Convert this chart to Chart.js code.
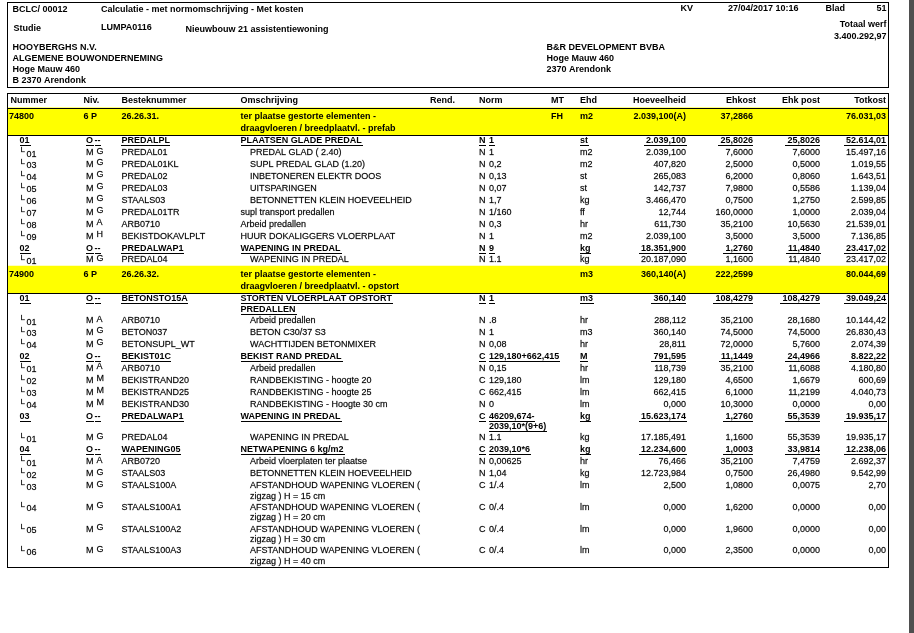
<!DOCTYPE html>
<html lang="nl">
<head>
<meta charset="utf-8">
<title>Calculatie - met normomschrijving - Met kosten</title>
<script src="https://cdn.jsdelivr.net/npm/chart.js@4.4.1/dist/chart.umd.min.js"></script>
<style>
  html, body { margin: 0; padding: 0; background: #fff; }
  canvas { display: block; }
</style>
</head>
<body>
<canvas id="calculatie" width="914" height="633"></canvas>
<script>
// kop van het blad
const documentKop = ['BCLC/ 00012', 'Calculatie - met normomschrijving - Met kosten', 'KV', '27/04/2017 10:16', 'Blad', '51'];
const studie = ['Studie', 'LUMPA0116', 'Nieuwbouw 21 assistentiewoning'];
const totaalWerf = ['Totaal werf', '3.400.292,97'];
const aannemer = ['HOOYBERGHS N.V.', 'ALGEMENE BOUWONDERNEMING', 'Hoge Mauw 460', 'B 2370 Arendonk'];
const bouwheer = ['B&R DEVELOPMENT BVBA', 'Hoge Mauw 460', '2370 Arendonk'];

const kolomTitels = ['Nummer', 'Niv.', 'Besteknummer', 'Omschrijving', 'Rend.', 'Norm', 'MT', 'Ehd', 'Hoeveelheid', 'Ehkost', 'Ehk post', 'Totkost'];

// een element per regel van de calculatie
const nummers = ['74800', '01', 'L01', 'L03', 'L04', 'L05', 'L06', 'L07', 'L08', 'L09', '02', 'L01',
    '74900', '01', 'L01', 'L03', 'L04', '02', 'L01', 'L02', 'L03', 'L04', '03', 'L01', '04', 'L01', 'L02', 'L03', 'L04', 'L05', 'L06'];
const niveaus = ['6 P', 'O --', 'M G', 'M G', 'M G', 'M G', 'M G', 'M G', 'M A', 'M H', 'O --', 'M G',
    '6 P', 'O --', 'M A', 'M G', 'M G', 'O --', 'M A', 'M M', 'M M', 'M M', 'O --', 'M G', 'O --', 'M A', 'M G', 'M G', 'M G', 'M G', 'M G'];
const besteknummers = ['26.26.31.', 'PREDALPL', 'PREDAL01', 'PREDAL01KL', 'PREDAL02', 'PREDAL03', 'STAALS03', 'PREDAL01TR', 'ARB0710', 'BEKISTDOKAVLPLT', 'PREDALWAP1', 'PREDAL04',
    '26.26.32.', 'BETONSTO15A', 'ARB0710', 'BETON037', 'BETONSUPL_WT', 'BEKIST01C', 'ARB0710', 'BEKISTRAND20', 'BEKISTRAND25', 'BEKISTRAND30', 'PREDALWAP1', 'PREDAL04',
    'WAPENING05', 'ARB0720', 'STAALS03', 'STAALS100A', 'STAALS100A1', 'STAALS100A2', 'STAALS100A3'];
const omschrijvingen = [
    'ter plaatse gestorte elementen -\ndraagvloeren / breedplaatvl. - prefab',
    'PLAATSEN GLADE PREDAL', 'PREDAL GLAD ( 2.40)', 'SUPL PREDAL GLAD (1.20)', 'INBETONEREN ELEKTR DOOS', 'UITSPARINGEN',
    'BETONNETTEN KLEIN HOEVEELHEID', 'supl transport predallen', 'Arbeid predallen', 'HUUR DOKALIGGERS VLOERPLAAT',
    'WAPENING IN PREDAL', 'WAPENING IN PREDAL',
    'ter plaatse gestorte elementen -\ndraagvloeren / breedplaatvl. - opstort',
    'STORTEN VLOERPLAAT OPSTORT\nPREDALLEN', 'Arbeid predallen', 'BETON C30/37 S3', 'WACHTTIJDEN BETONMIXER',
    'BEKIST RAND PREDAL', 'Arbeid predallen', 'RANDBEKISTING - hoogte 20', 'RANDBEKISTING - hoogte 25', 'RANDBEKISTING - Hoogte 30 cm',
    'WAPENING IN PREDAL', 'WAPENING IN PREDAL', 'NETWAPENING 6 kg/m2', 'Arbeid vloerplaten ter plaatse', 'BETONNETTEN KLEIN HOEVEELHEID',
    'AFSTANDHOUD WAPENING VLOEREN (\nzigzag ) H = 15 cm', 'AFSTANDHOUD WAPENING VLOEREN (\nzigzag ) H = 20 cm',
    'AFSTANDHOUD WAPENING VLOEREN (\nzigzag ) H = 30 cm', 'AFSTANDHOUD WAPENING VLOEREN (\nzigzag ) H = 40 cm'];
const normen = ['', 'N 1', 'N 1', 'N 0,2', 'N 0,13', 'N 0,07', 'N 1,7', 'N 1/160', 'N 0,3', 'N 1', 'N 9', 'N 1.1',
    '', 'N 1', 'N .8', 'N 1', 'N 0,08', 'C 129,180+662,415', 'N 0,15', 'C 129,180', 'C 662,415', 'N 0',
    'C 46209,674-\n2039,10*(9+6)', 'N 1.1', 'C 2039,10*6', 'N 0,00625', 'N 1,04', 'C 1/.4', 'C 0/.4', 'C 0/.4', 'C 0/.4'];
const mts = ['FH', '', '', '', '', '', '', '', '', '', '', '', '', '', '', '', '', '', '', '', '', '', '', '', '', '', '', '', '', '', ''];
const eenheden = ['m2', 'st', 'm2', 'm2', 'st', 'st', 'kg', 'ff', 'hr', 'm2', 'kg', 'kg',
    'm3', 'm3', 'hr', 'm3', 'hr', 'M', 'hr', 'lm', 'lm', 'lm', 'kg', 'kg', 'kg', 'hr', 'kg', 'lm', 'lm', 'lm', 'lm'];
const hoeveelheden = ['2.039,100(A)', '2.039,100', '2.039,100', '407,820', '265,083', '142,737', '3.466,470', '12,744', '611,730', '2.039,100', '18.351,900', '20.187,090',
    '360,140(A)', '360,140', '288,112', '360,140', '28,811', '791,595', '118,739', '129,180', '662,415', '0,000', '15.623,174', '17.185,491',
    '12.234,600', '76,466', '12.723,984', '2,500', '0,000', '0,000', '0,000'];
const ehkosten = ['37,2866', '25,8026', '7,6000', '2,5000', '6,2000', '7,9800', '0,7500', '160,0000', '35,2100', '3,5000', '1,2760', '1,1600',
    '222,2599', '108,4279', '35,2100', '74,5000', '72,0000', '11,1449', '35,2100', '4,6500', '6,1000', '10,3000', '1,2760', '1,1600',
    '1,0003', '35,2100', '0,7500', '1,0800', '1,6200', '1,9600', '2,3500'];
const ehkPosten = ['', '25,8026', '7,6000', '0,5000', '0,8060', '0,5586', '1,2750', '1,0000', '10,5630', '3,5000', '11,4840', '11,4840',
    '', '108,4279', '28,1680', '74,5000', '5,7600', '24,4966', '11,6088', '1,6679', '11,2199', '0,0000', '55,3539', '55,3539',
    '33,9814', '7,4759', '26,4980', '0,0075', '0,0000', '0,0000', '0,0000'];
const totkosten = ['76.031,03', '52.614,01', '15.497,16', '1.019,55', '1.643,51', '1.139,04', '2.599,85', '2.039,04', '21.539,01', '7.136,85', '23.417,02', '23.417,02',
    '80.044,69', '39.049,24', '10.144,42', '26.830,43', '2.074,39', '8.822,22', '4.180,80', '600,69', '4.040,73', '0,00', '19.935,17', '19.935,17',
    '12.238,06', '2.692,37', '9.542,99', '2,70', '0,00', '0,00', '0,00'];

// regels waarvan de omschrijving niet inspringt
const zonderInspringing = [7, 8, 9];

// opmaak: x in pixels van het blad, y in tekstregels
const X = { links: 7, rechts: 888, nummer: 9, post: 19.5, lijn: 20.5, sub: 26.5, niv: 83.5, niv1: 86, niv2: 96.5, streep: 94.5,
    bestek: 121.5, omschr: 240.5, inspring: 250, rend: 455, norm: 479, normWaarde: 489, mt: 551, ehd: 580,
    hoev: 686, ehkost: 753, ehkPost: 820, totkost: 886 };
const KOP_HOOGTE = 1.22;
const GROEP_HOOGTE = 2.25;
const EXTRA_REGEL = 0.82;
const PX_PER_REGEL = 633 / 53;
const FONT = '"Liberation Sans", Arial, sans-serif';

let regel = KOP_HOOGTE;
const rijen = nummers.map((nr, i) => {
    const soort = /^\d/.test(niveaus[i]) ? 'groep' : (niveaus[i].startsWith('O') ? 'post' : 'deel');
    const n = Math.max(omschrijvingen[i].split('\n').length, normen[i].split('\n').length);
    const hoogte = soort === 'groep' ? GROEP_HOOGTE : 1 + EXTRA_REGEL * (n - 1);
    const rij = { i, soort, top: regel, hoogte };
    regel += hoogte;
    return rij;
});
const tabelEinde = regel;

function schrijf(ctx, s, x, y, opt = {}) {
    if (!s) return;
    ctx.font = (opt.bold ? 'bold ' : '') + (opt.size || 9) + 'px ' + FONT;
    ctx.textAlign = opt.align || 'left';
    ctx.textBaseline = 'middle';
    ctx.fillStyle = '#000';
    ctx.fillText(s, x, y);
    if (!opt.bold) {
        // gewone tekst iets voller, zoals op het scherm van het origineel
        ctx.strokeStyle = 'rgba(0,0,0,0.55)';
        ctx.lineWidth = 0.3;
        ctx.strokeText(s, x, y);
    }
    if (opt.onder) {
        const w = ctx.measureText(s).width;
        const x0 = opt.align === 'right' ? x - w - 2 : x;
        ctx.fillRect(Math.round(x0), Math.round(y + 4.5), Math.ceil(w + (opt.align === 'right' ? 2 : 0)), 1);
    }
}

const tabelPlugin = {
    id: 'tabel',
    beforeDraw(chart) {
        const { ctx } = chart;
        ctx.save();
        ctx.fillStyle = '#fff';
        ctx.fillRect(0, 0, chart.width, chart.height);
        ctx.restore();
    },
    afterDatasetsDraw(chart) {
        const { ctx, scales: { x, y } } = chart;
        const px = v => x.getPixelForValue(v);
        const py = v => y.getPixelForValue(v);
        ctx.save();

        // kopblok
        const b = { bold: true };
        ctx.fillStyle = '#000';
        const kTop = Math.round(py(-7.62)), kBodem = Math.round(py(-0.5));
        ctx.fillRect(px(X.links), kTop, px(X.rechts) - px(X.links) + 1, 1);
        ctx.fillRect(px(X.links), kBodem, px(X.rechts) - px(X.links) + 1, 1);
        ctx.fillRect(px(X.links), kTop, 1, kBodem - kTop);
        ctx.fillRect(px(X.rechts), kTop, 1, kBodem - kTop);
        schrijf(ctx, documentKop[0], px(12.5), py(-7.03), b);
        schrijf(ctx, documentKop[1], px(101), py(-7.03), b);
        schrijf(ctx, documentKop[2], px(680.5), py(-7.08), b);
        schrijf(ctx, documentKop[3], px(728), py(-7.08), b);
        schrijf(ctx, documentKop[4], px(825.5), py(-7.08), b);
        schrijf(ctx, documentKop[5], px(886.5), py(-7.08), { bold: true, align: 'right' });
        schrijf(ctx, studie[0], px(13.5), py(-5.43), b);
        schrijf(ctx, studie[1], px(101), py(-5.5), b);
        schrijf(ctx, studie[2], px(185.5), py(-5.3), b);
        schrijf(ctx, totaalWerf[0], px(886.5), py(-5.77), { bold: true, align: 'right' });
        schrijf(ctx, totaalWerf[1], px(886.5), py(-4.77), { bold: true, align: 'right' });
        aannemer.forEach((t, k) => schrijf(ctx, t, px(12.5), py(-3.82 + 0.91 * k), b));
        bouwheer.forEach((t, k) => schrijf(ctx, t, px(546.5), py(-3.82 + 0.91 * k), b));

        // kolomkoppen
        const kh = py(KOP_HOOGTE / 2);
        const kopX = [X.nummer + 1.5, X.niv, X.bestek, X.omschr, X.rend, X.norm, X.mt, X.ehd, X.hoev, X.ehkost + 3, X.ehkPost, X.totkost];
        const rechts = ['Rend.', 'Hoeveelheid', 'Ehkost', 'Ehk post', 'Totkost'];
        kolomTitels.forEach((t, k) => schrijf(ctx, t, px(kopX[k]), kh, { bold: true, align: rechts.includes(t) ? 'right' : 'left' }));

        // regels
        rijen.forEach(r => {
            const i = r.i;
            const groep = r.soort === 'groep', post = r.soort === 'post';
            const opt = { bold: groep || post, onder: post };
            const y1 = groep ? py(r.top + 0.7) : py(r.top + 0.5);
            const regelY = k => groep ? py(r.top + 0.7 + 1.0 * k) : py(r.top + 0.5 + (EXTRA_REGEL + 0.06) * k);

            if (groep) schrijf(ctx, nummers[i], px(X.nummer), y1, opt);
            else if (post) schrijf(ctx, nummers[i], px(X.post), y1, opt);
            else {
                schrijf(ctx, 'L', px(X.lijn), y1 - 2.5, { size: 8 });
                schrijf(ctx, nummers[i].slice(1), px(X.sub), y1 + 1.5);
            }

            if (groep) schrijf(ctx, niveaus[i], px(X.niv), y1, opt);
            else {
                const [a, c] = niveaus[i].split(' ');
                schrijf(ctx, a, px(X.niv1), y1, opt);
                schrijf(ctx, c, px(post ? X.streep : X.niv2), post ? y1 : y1 - 1.5, opt);
            }

            schrijf(ctx, besteknummers[i], px(X.bestek), y1, opt);

            const ox = r.soort === 'deel' && !zonderInspringing.includes(i) ? X.inspring : X.omschr;
            omschrijvingen[i].split('\n').forEach((t, k) => schrijf(ctx, t, px(ox), regelY(k), opt));

            if (normen[i]) {
                const [eerste, ...rest] = normen[i].split('\n');
                schrijf(ctx, eerste.slice(0, 1), px(X.norm), y1, opt);
                schrijf(ctx, eerste.slice(2), px(X.normWaarde), y1, opt);
                rest.forEach((t, k) => schrijf(ctx, t, px(X.normWaarde), regelY(k + 1), opt));
            }

            schrijf(ctx, mts[i], px(X.mt), y1, opt);
            schrijf(ctx, eenheden[i], px(X.ehd), y1, opt);
            const num = Object.assign({ align: 'right' }, opt);
            schrijf(ctx, hoeveelheden[i], px(X.hoev), y1, num);
            schrijf(ctx, ehkosten[i], px(X.ehkost), y1, num);
            schrijf(ctx, ehkPosten[i], px(X.ehkPost), y1, num);
            schrijf(ctx, totkosten[i], px(X.totkost), y1, num);
        });

        // lijnen van de tabel
        ctx.fillStyle = '#000';
        const l = px(X.links), w = px(X.rechts) - px(X.links) + 1;
        const tTop = Math.round(py(0)), tBodem = Math.round(py(tabelEinde));
        ctx.fillRect(l, tTop, w, 1);
        ctx.fillRect(l, Math.round(py(KOP_HOOGTE)), w, 1);
        rijen.filter(r => r.soort === 'groep').forEach(r => ctx.fillRect(l, Math.round(py(r.top + r.hoogte)), w, 1));
        ctx.fillRect(l, tBodem, w, 1);
        ctx.fillRect(l, tTop, 1, tBodem - tTop);
        ctx.fillRect(px(X.rechts), tTop, 1, tBodem - tTop);

        // schuifbalk rechts
        ctx.fillStyle = '#4f4f4f';
        ctx.fillRect(px(909), 0, px(914) - px(909), chart.height);
        ctx.restore();
    }
};

const groepen = rijen.filter(r => r.soort === 'groep');

new Chart(document.getElementById('calculatie'), {
    type: 'bar',
    data: {
        datasets: [{
            label: 'Groepen',
            data: groepen.map(r => ({ x: [X.links + 1, X.rechts], y: r.top + r.hoogte / 2 })),
            backgroundColor: '#ffff00',
            borderWidth: 0,
            barThickness: GROEP_HOOGTE * PX_PER_REGEL
        }]
    },
    options: {
        indexAxis: 'y',
        responsive: false,
        animation: false,
        devicePixelRatio: 1,
        events: [],
        layout: { padding: 0 },
        plugins: { legend: { display: false }, tooltip: { enabled: false } },
        scales: {
            x: { type: 'linear', min: 0, max: 914, offset: false, display: false },
            y: { type: 'linear', min: -7.8, max: 45.2, reverse: true, offset: false, display: false }
        }
    },
    plugins: [tabelPlugin]
});
</script>
</body>
</html>
